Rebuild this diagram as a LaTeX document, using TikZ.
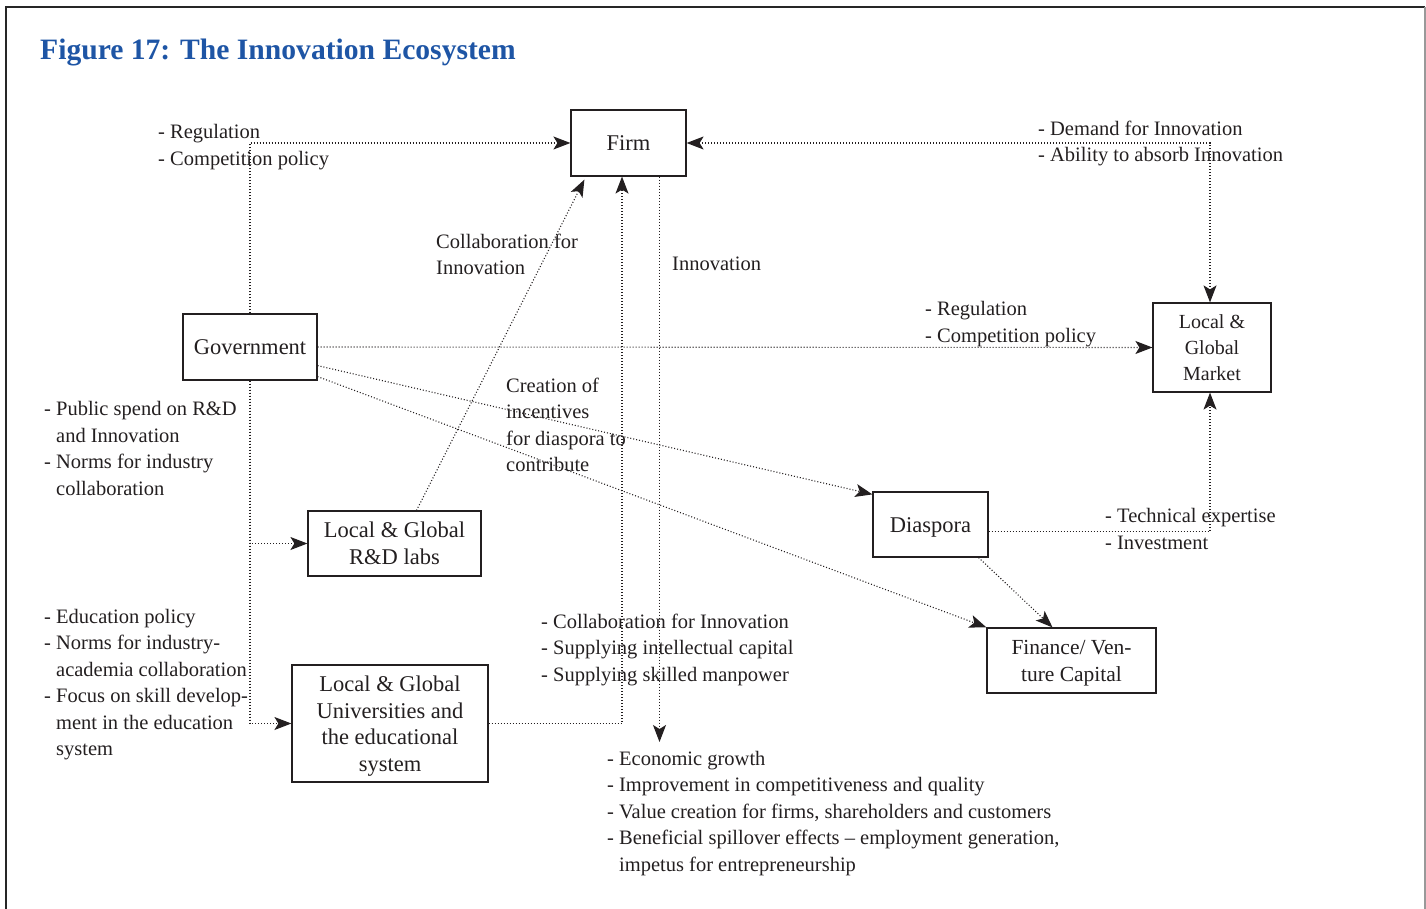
\documentclass[tikz,border=0pt]{standalone}
\usepackage{fontspec}
\setmainfont{Liberation Serif}
\usetikzlibrary{arrows.meta}
\definecolor{titleblue}{RGB}{30,85,165}
\definecolor{ink}{RGB}{35,31,32}
\begin{document}
\begin{tikzpicture}[x=1pt,y=-1pt,
  every node/.style={text=ink},
  box/.style={draw=ink, line width=1.2pt, inner sep=0pt, align=center,
    font=\fontsize{22.5}{26.5}\selectfont, text height=15.5pt, text depth=0pt},
  lbl/.style={anchor=base west, inner sep=0pt, align=left,
    font=\fontsize{20.5}{26.5}\selectfont},
  flow/.style={draw=ink, line width=1.1pt, dash pattern=on 1pt off 2pt, -{Stealth[length=17pt,width=13pt,inset=4pt]}},
  flowtwo/.style={draw=ink, line width=1.1pt, dash pattern=on 1pt off 2pt,
    {Stealth[length=17pt,width=13pt,inset=4pt]}-{Stealth[length=17pt,width=13pt,inset=4pt]}}
]
\useasboundingbox (0,0) rectangle (1426,909);
% frame
\draw[line width=1.8pt, black!85] (6,909) -- (6,7) -- (1425,7);
\draw[line width=1.2pt, black!40] (1425,7) -- (1425,909);
% title
\node[anchor=base west, inner sep=0pt, text=titleblue] (title) at (40,60)
  {\fontsize{29.6}{32}\selectfont\bfseries Figure 17: The Innovation Ecosystem};
% boxes (multi-line: baseline is the last line)
\node[box, minimum width=115pt, minimum height=66pt] (firm) at (628.5,143) {Firm};
\node[box, minimum width=134pt, minimum height=66pt] (gov) at (250,347) {Government};
\node[box, minimum width=118pt, minimum height=89pt, font=\fontsize{20}{26}\selectfont,
  text height=66pt] (market) at (1212,347.5) {Local \&\\Global\\Market};
\node[box, minimum width=115pt, minimum height=65pt] (dia) at (930.5,524.5) {Diaspora};
\node[box, minimum width=169pt, minimum height=65pt, font=\fontsize{21.5}{26.5}\selectfont,
  text height=41.5pt] (fin) at (1071.5,660.5) {Finance/ Ven-\\ture Capital};
\node[box, minimum width=173pt, minimum height=65pt,
  text height=41.5pt] (rd) at (394.5,543.5) {Local \& Global\\R\&D labs};
\node[box, minimum width=196pt, minimum height=117pt,
  text height=95pt] (univ) at (390,723.5)
  {Local \& Global\\Universities and\\the educational\\system};
% labels (anchored at the baseline of their last line)
\node[lbl] (lreg) at (158,165.5) {- Regulation\\- Competition policy};
\node[lbl] (ldem) at (1038,162) {- Demand for Innovation\\- Ability to absorb Innovation};
\node[lbl] (lcol) at (436,275) {Collaboration for\\Innovation};
\node[lbl] (linn) at (672,271) {Innovation};
\node[lbl] (lregb) at (925,342) {- Regulation\\- Competition policy};
\node[lbl] (lcre) at (506,471.5) {Creation of\\incentives\\for diaspora to\\contribute};
\node[lbl] (lpub) at (44,495) {- Public spend on R\&D\\\hphantom{- }and Innovation\\- Norms for industry\\\hphantom{- }collaboration};
\node[lbl] (ledu) at (44,755.5) {- Education policy\\- Norms for industry-\\\hphantom{- }academia collaboration\\- Focus on skill develop-\\\hphantom{- }ment in the education\\\hphantom{- }system};
\node[lbl] (lsup) at (541,681) {- Collaboration for Innovation\\- Supplying intellectual capital\\- Supplying skilled manpower};
\node[lbl] (ltec) at (1105,549) {- Technical expertise\\- Investment};
\node[lbl] (lout) at (607,871) {- Economic growth\\- Improvement in competitiveness and quality\\- Value creation for firms, shareholders and customers\\- Beneficial spillover effects -- employment generation,\\\hphantom{- }impetus for entrepreneurship};
% connectors
\coordinate (outc) at (659.5,742);
\draw[flow] (gov.north) |- (firm.west);
\draw[flow] (gov.south) |- (rd.west);
\draw[flow] (gov.south) |- (univ.west);
\draw[flow] (gov.east) -- (market.west);
\draw[flow] ([yshift=15pt]gov.south east) -- ([yshift=-3pt]dia.north west);
\draw[flow] ([yshift=4pt]gov.south east) -- (fin.north west);
\draw[flow] ([xshift=22pt]rd.north) -- ([xshift=14pt,yshift=-3pt]firm.south west);
\draw[flow] (univ.east) -| ([xshift=-6.5pt]firm.south);
\draw[flow] ([xshift=31pt]firm.south) -- (outc);
\draw[flowtwo] (firm.east) -| ([xshift=-2pt]market.north);
\draw[flow] ([yshift=-7pt]dia.east) -| ([xshift=-2pt]market.south);
\draw[flow] ([xshift=-10pt]dia.south east) -- ([xshift=-19pt]fin.north);
\end{tikzpicture}
\end{document}
